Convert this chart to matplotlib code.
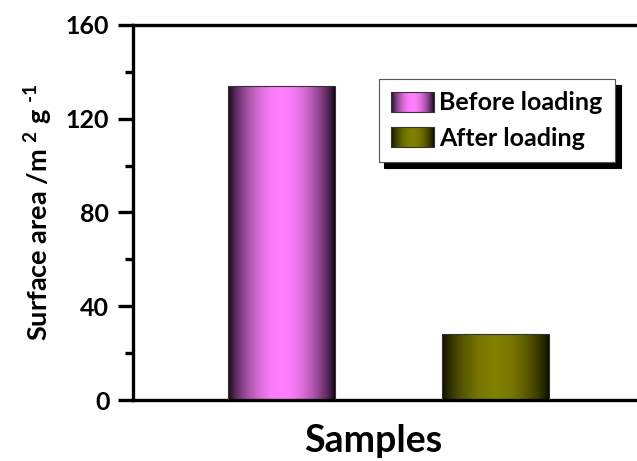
import numpy as np
import matplotlib
matplotlib.use("Agg")
import matplotlib.pyplot as plt
from matplotlib.legend_handler import HandlerBase
from matplotlib.image import BboxImage
from matplotlib.transforms import Bbox, TransformedBbox
from matplotlib.patches import Rectangle

plt.rcParams['font.family'] = ['Lato', 'DejaVu Sans']
plt.rcParams['font.weight'] = 'bold'
plt.rcParams['mathtext.fontset'] = 'custom'
plt.rcParams['mathtext.bf'] = 'Lato:bold'
plt.rcParams['mathtext.rm'] = 'Lato:bold'
plt.rcParams['mathtext.default'] = 'bf'

# Datos
labels = ['Before loading', 'After loading']
values = [134, 28]
positions = [1, 2]
centre_colours = [(1.0, 0.50, 1.0), (0.50, 0.50, 0.0)]
edge_colours = [(0.08, 0.02, 0.08), (0.05, 0.05, 0.0)]


def gradient(c_mid, c_edge, n=200):
    # sombreado tipo cilindro
    t = np.linspace(0, 1, n)
    p = np.sin(np.pi * t) ** 0.8
    mid = np.array(c_mid)
    edge = np.array(c_edge)
    rgb = edge[None, :] + (mid - edge)[None, :] * p[:, None]
    return rgb[None, :, :]


class GradHandler(HandlerBase):
    def create_artists(self, legend, orig_handle, xdescent, ydescent,
                       width, height, fontsize, trans):
        bb = TransformedBbox(Bbox.from_bounds(-xdescent, -ydescent, width, height), trans)
        img = BboxImage(bb, interpolation='bilinear')
        img.set_data(orig_handle.grad)
        rect = Rectangle((-xdescent, -ydescent), width, height, fill=False,
                         edgecolor='#333333', linewidth=0.8, transform=trans)
        return [img, rect]


fig = plt.figure(figsize=(6.37, 4.61), dpi=100)
ax = fig.add_axes([133 / 637, 1 - 400 / 461, 512 / 637, 375 / 461])

bars = ax.bar(positions, values, width=0.5, facecolor='none',
              edgecolor='#333333', linewidth=0.8, zorder=3)
handles = []
for b, cm, ce in zip(bars, centre_colours, edge_colours):
    g = gradient(cm, ce)
    x0, y0 = b.get_x(), b.get_y()
    im = ax.imshow(g, extent=[x0, x0 + b.get_width(), y0, y0 + b.get_height()],
                   aspect='auto', interpolation='bilinear', zorder=2)
    im.set_clip_path(b)
    b.grad = g
    handles.append(b)

ax.set_xlim(0.304, 2.70)
ax.set_ylim(0, 160)
ax.set_yticks([0, 40, 80, 120, 160])
ax.set_yticks([20, 60, 100, 140], minor=True)
ax.set_xticks([])
for s in ['left', 'top', 'bottom']:
    ax.spines[s].set_linewidth(2.4)
ax.spines['right'].set_visible(False)
ax.tick_params(axis='y', which='major', direction='out', length=11, width=2.4,
               labelsize=18, pad=6)
ax.tick_params(axis='y', which='minor', direction='out', length=6, width=2.4)

ax.set_ylabel('Surface area /m $^{2}$ g $^{\u20101}$', fontsize=19.5, fontweight='bold', labelpad=8)
ax.set_xlabel('Samples', fontsize=27, fontweight='bold', labelpad=17, x=0.469)

leg = ax.legend(handles, labels, handler_map={h: GradHandler() for h in handles},
                loc='upper left', bbox_to_anchor=(0.480, 0.856), fontsize=18,
                frameon=True, fancybox=False, edgecolor='#555555',
                shadow={'color': 'black', 'alpha': 1, 'ox': 4, 'oy': -4},
                handlelength=1.72, handleheight=0.84, handletextpad=0.2,
                labelspacing=0.5, borderpad=0.5, borderaxespad=0)
leg.get_frame().set_linewidth(0.8)

fig.savefig('out.png', dpi=100)
